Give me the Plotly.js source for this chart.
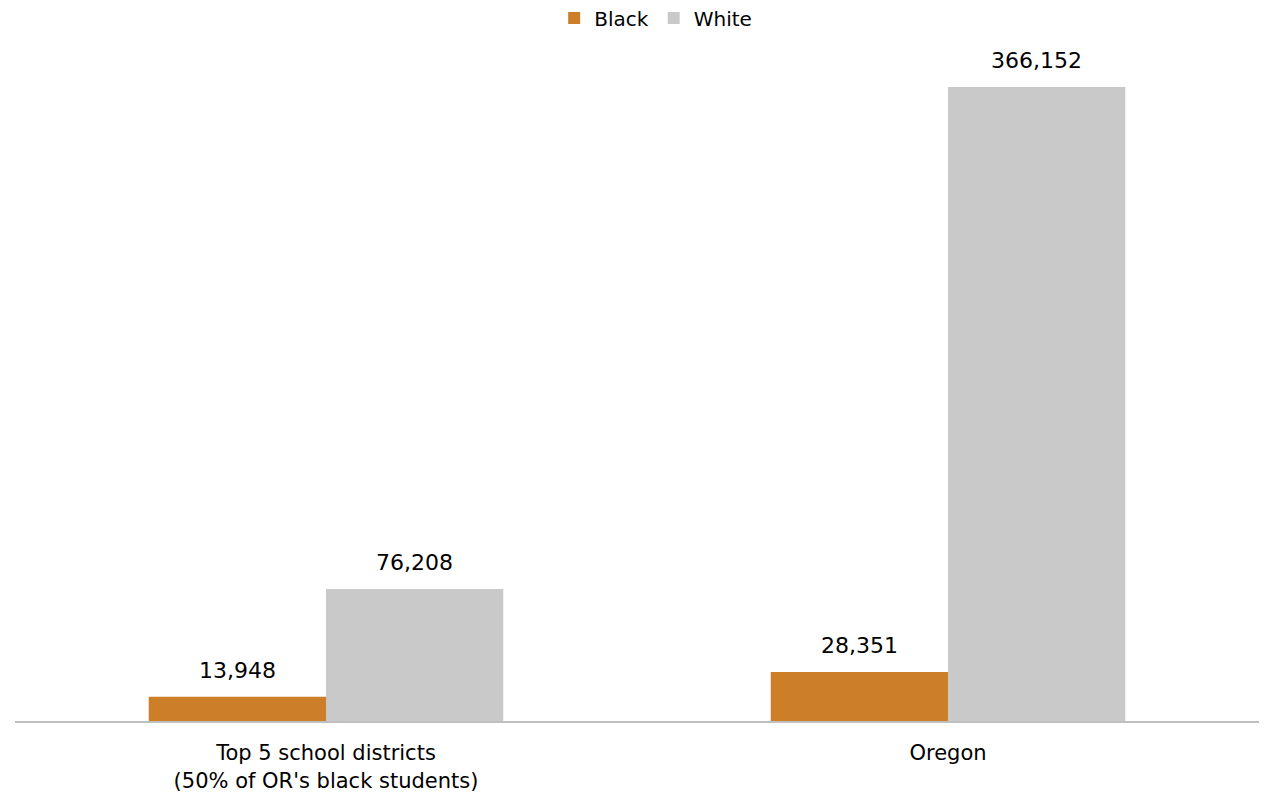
<!DOCTYPE html>
<html>
<head>
<meta charset="utf-8">
<script src="https://cdn.plot.ly/plotly-3.0.1.min.js"></script>
<style>html,body{margin:0;padding:0;background:#fff;}#chart{width:1264px;height:798px;}</style>
</head>
<body>
<div id="chart"></div>
<script>
var categories = ["Top 5 school districts<br>(50% of OR's black students)", "Oregon"];
var seriesNames = ["Black", "White"];
var blackValues = [13948, 28351];
var whiteValues = [76208, 366152];
var colors = ["#CC7E29", "#C9C9C9"];

var FONT = "DejaVu Sans, Verdana, sans-serif";
var traces = [
  {type: 'bar', name: seriesNames[0], x: categories, y: blackValues, marker: {color: colors[0]}, hoverinfo: 'none'},
  {type: 'bar', name: seriesNames[1], x: categories, y: whiteValues, marker: {color: colors[1]}, hoverinfo: 'none'}
];

var annotations = [];
[blackValues, whiteValues].forEach(function(vals, si) {
  vals.forEach(function(v, i) {
    annotations.push({
      x: categories[i], y: v, xref: 'x', yref: 'y',
      text: v.toLocaleString('en-US'),
      showarrow: false, yanchor: 'bottom',
      xshift: si === 0 ? -88.75 : 88.75, yshift: 12,
      font: {family: FONT, size: 22, color: '#000'}
    });
  });
});

var maxY = 366152 * 681 / 634;
var layout = {
  width: 1264, height: 798,
  margin: {l: 15, r: 5, t: 40, b: 77, autoexpand: false},
  paper_bgcolor: '#fff', plot_bgcolor: '#fff',
  barmode: 'group', bargap: 0.43, bargroupgap: 0,
  font: {family: FONT, size: 20, color: '#000'},
  showlegend: true,
  legend: {orientation: 'h', x: 0.515, xanchor: 'center', y: 1 - 18/798, yanchor: 'middle', yref: 'container',
           font: {family: FONT, size: 20, color: '#000'}, bgcolor: 'rgba(0,0,0,0)', traceorder: 'normal'},
  xaxis: {type: 'category', showline: true, linecolor: '#BFBFBF', linewidth: 2, ticks: '', showgrid: false,
          ticklabelstandoff: 12, automargin: false,
          tickfont: {family: FONT, size: 21, color: '#000'}, zeroline: false},
  yaxis: {range: [0, maxY], visible: false, showgrid: false, zeroline: false},
  annotations: annotations
};

Plotly.newPlot('chart', traces, layout, {displayModeBar: false, staticPlot: true});
</script>
</body>
</html>
